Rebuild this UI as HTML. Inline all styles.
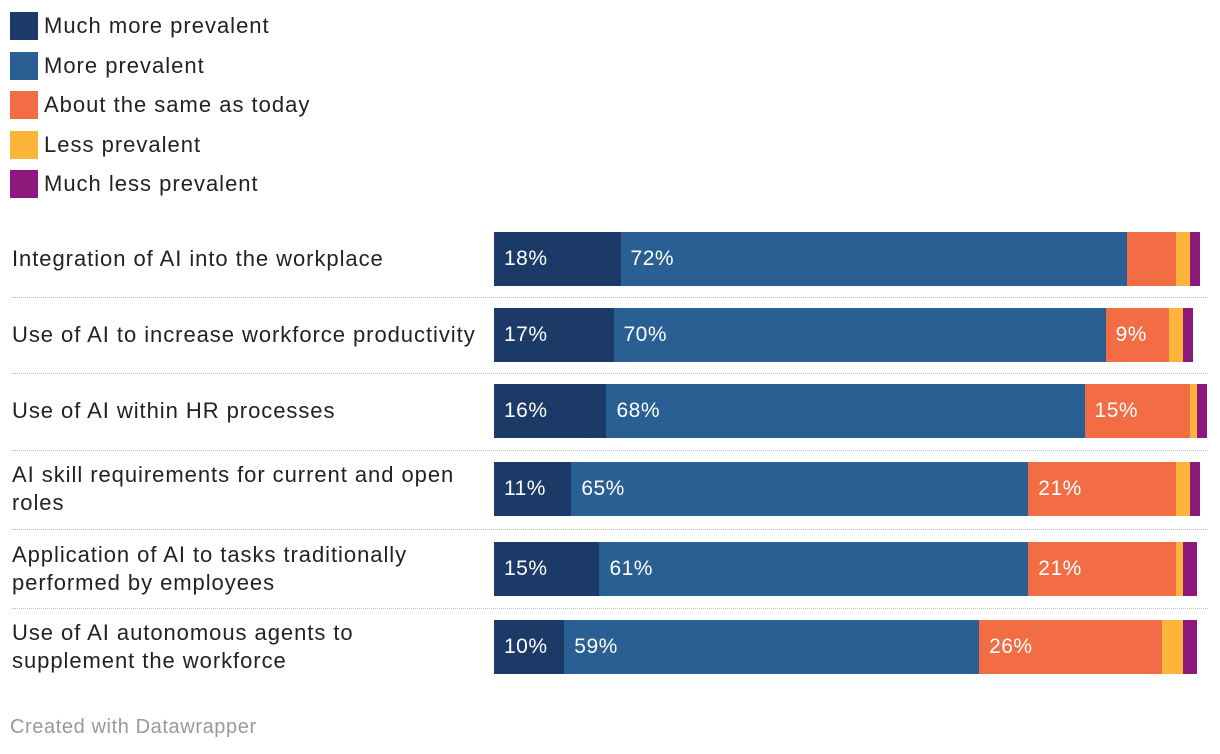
<!DOCTYPE html>
<html><head><meta charset="utf-8"><style>
body{margin:0;width:1220px;height:754px;background:#fff;font-family:"Liberation Sans",sans-serif;position:relative;overflow:hidden;color:#222}
.leg{position:absolute;left:10px;height:28px;display:flex;align-items:center;font-size:22px;letter-spacing:1px}
.leg span.sw{width:28px;height:28px;margin-right:6px;display:inline-block}
.lbl{position:absolute;left:12px;width:468px;font-size:22px;line-height:28px;display:flex;align-items:center;letter-spacing:0.95px}
.seg{position:absolute;height:54px;color:#fff;font-size:21px;line-height:54px;box-sizing:border-box;padding-left:10px;white-space:nowrap;overflow:hidden;letter-spacing:0.5px}
.sep{position:absolute;left:12px;width:1196px;border-top:1.5px dotted #bbb}
.foot{position:absolute;left:10px;top:716px;font-size:20px;color:#999;letter-spacing:0.6px}
</style></head><body>
<div id="legend"></div>
<div id="chart"></div>
<div class="foot">Created with Datawrapper</div>
<script>
const categories=["Integration of AI into the workplace","Use of AI to increase workforce productivity","Use of AI within HR processes","AI skill requirements for current and open roles","Application of AI to tasks traditionally performed by employees","Use of AI autonomous agents to supplement the workforce"];
const seriesNames=["Much more prevalent","More prevalent","About the same as today","Less prevalent","Much less prevalent"];
const muchMore=[18,17,16,11,15,10];
const more=[72,70,68,65,61,59];
const same=[7,9,15,21,21,26];
const less=[2,2,1,2,1,3];
const muchLess=[1,1,1,1,2,2];
const colors=["#1c3a68","#295f93","#f26d43","#fdb43a","#8b1a7c"];
const series=[muchMore,more,same,less,muchLess];
const x0=494,pxPer=7.03;
const xs=v=>v*pxPer;
const rowTops=[232,308,384,462,542,620];
const lg=document.getElementById('legend');
seriesNames.forEach((n,i)=>{
 const d=document.createElement('div');d.className='leg';d.style.top=(12+i*39.5)+'px';
 
 
 d.innerHTML='<span class="sw" style="background:'+colors[i]+'"></span>'+n;lg.appendChild(d);
});
const ch=document.getElementById('chart');
categories.forEach((c,r)=>{
 const top=rowTops[r];
 const l=document.createElement('div');l.className='lbl';l.textContent=c;
 l.style.top=top+'px';l.style.height='54px';
 
 
 ch.appendChild(l);
 let acc=0;
 series.forEach((s,i)=>{
  const v=s[r];const b=document.createElement('div');b.className='seg';
  b.style.left=(x0+xs(acc))+'px';b.style.width=xs(v)+'px';b.style.top=top+'px';b.style.background=colors[i];
  if(v>=9)b.textContent=v+'%';
  
  
  ch.appendChild(b);acc+=v;
 });
 if(r<categories.length-1){
  const sp=document.createElement('div');sp.className='sep';
  sp.style.top=((top+54+rowTops[r+1])/2)+'px';
  
  
  ch.appendChild(sp);
 }
});
</script>
</body></html>
